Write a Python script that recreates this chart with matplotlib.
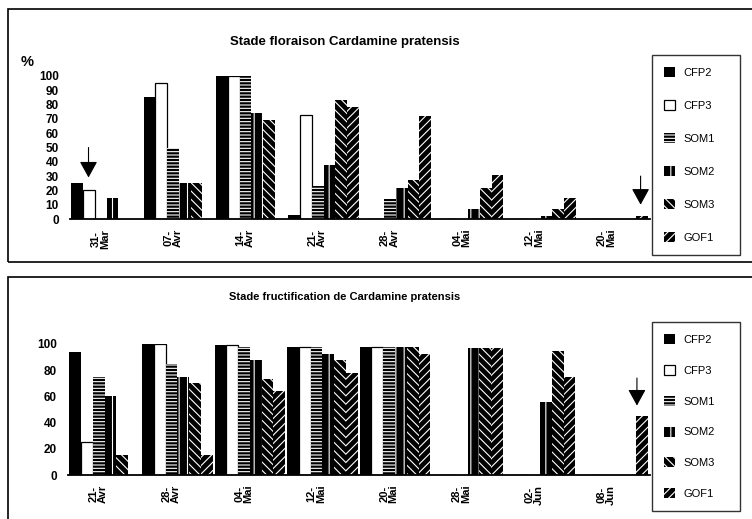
import matplotlib
matplotlib.use('Agg')
import matplotlib.pyplot as plt
from matplotlib.patches import Rectangle
import numpy as np

plt.rcParams['font.family'] = ['Liberation Sans', 'DejaVu Sans']
plt.rcParams['hatch.color'] = 'white'
plt.rcParams['hatch.linewidth'] = 0.8

series = ['CFP2', 'CFP3', 'SOM1', 'SOM2', 'SOM3', 'GOF1']

# Stade floraison (%)
dates_flo = ['31-\nMar', '07-\nAvr', '14-\nAvr', '21-\nAvr', '28-\nAvr', '04-\nMai', '12-\nMai', '20-\nMai']
flo_cfp2 = [25, 85, 100, 3, 0, 0, 0, 0]
flo_cfp3 = [20, 95, 100, 73, 0, 0, 0, 0]
flo_som1 = [0, 50, 100, 23, 14, 0, 0, 0]
flo_som2 = [15, 25, 74, 38, 22, 7, 2, 0]
flo_som3 = [0, 25, 69, 83, 27, 22, 7, 0]
flo_gof1 = [0, 0, 0, 78, 72, 31, 15, 2]

# Stade fructification (%)
dates_fru = ['21-\nAvr', '28-\nAvr', '04-\nMai', '12-\nMai', '20-\nMai', '28-\nMai', '02-\nJun', '08-\nJun']
fru_cfp2 = [94, 100, 99, 98, 98, 0, 0, 0]
fru_cfp3 = [25, 100, 99, 98, 98, 0, 0, 0]
fru_som1 = [75, 85, 98, 98, 98, 0, 0, 0]
fru_som2 = [60, 75, 88, 92, 98, 97, 56, 0]
fru_som3 = [15, 70, 73, 88, 98, 97, 95, 0]
fru_gof1 = [0, 15, 64, 78, 92, 97, 75, 45]

styles = {
    'CFP2': dict(color='black'),
    'CFP3': dict(color='white', edgecolor='black', linewidth=0.9),
    'SOM1': dict(color='black', hatch='-----'),
    'SOM2': dict(color='black', hatch='||'),
    'SOM3': dict(color='black', hatch='\\\\\\\\'),
    'GOF1': dict(color='black', hatch='////'),
}

fig = plt.figure(figsize=(7.52, 5.19), dpi=100)


def fx(px):
    return px / 752


def fy(px):
    return 1 - px / 519


def draw_panel(ax, values, labels, yticks):
    x = np.arange(len(labels))
    w = 0.162
    for k, (name, vals) in enumerate(zip(series, values)):
        ax.bar(x + k * w, vals, w, align='edge', label=name, **styles[name])
    ax.set_xlim(-0.02, 8.0)
    ax.set_ylim(0, 100)
    ax.set_yticks(yticks)
    ax.set_yticklabels([str(t) for t in yticks], fontsize=8.5, fontweight='bold')
    ax.set_xticks(x + 0.4)
    ax.set_xticklabels(labels, rotation=90, fontsize=8, fontweight='bold', linespacing=0.9)
    ax.tick_params(axis='both', length=0)
    ax.tick_params(axis='y', pad=8)
    ax.tick_params(axis='x', pad=7)
    for s in ['top', 'right', 'left']:
        ax.spines[s].set_visible(False)
    ax.spines['bottom'].set_linewidth(1.3)


# panneaux encadrés
fig.add_artist(Rectangle((fx(8), fy(262)), 1, fy(9) - fy(262), transform=fig.transFigure,
                         fill=False, edgecolor='black', linewidth=1.2))
fig.add_artist(Rectangle((fx(8), fy(540)), 1, fy(277) - fy(540), transform=fig.transFigure,
                         fill=False, edgecolor='black', linewidth=1.2))

# graphique du haut
ax1 = fig.add_axes([fx(70), fy(219), fx(650) - fx(70), fy(76) - fy(219)])
draw_panel(ax1, [flo_cfp2, flo_cfp3, flo_som1, flo_som2, flo_som3, flo_gof1],
           dates_flo, list(range(0, 101, 10)))
fig.text(fx(345), fy(42), 'Stade floraison Cardamine pratensis', ha='center', va='center',
         fontsize=9.5, fontweight='bold')
fig.text(fx(21), fy(62), '%', ha='left', va='center', fontsize=10.5, fontweight='bold')

arrow = dict(arrowstyle='-|>,head_length=1.0,head_width=0.55', color='black', lw=0.8,
             mutation_scale=10, shrinkA=0, shrinkB=0)
ax1.annotate('', xy=(0.236, 29), xytext=(0.236, 50), arrowprops=arrow)
ax1.annotate('', xy=(7.87, 10), xytext=(7.87, 30), arrowprops=arrow)

# graphique du bas
ax2 = fig.add_axes([fx(68), fy(475), fx(650) - fx(68), fy(344) - fy(475)])
draw_panel(ax2, [fru_cfp2, fru_cfp3, fru_som1, fru_som2, fru_som3, fru_gof1],
           dates_fru, list(range(0, 101, 20)))
fig.text(fx(345), fy(297), 'Stade fructification de Cardamine pratensis', ha='center', va='center',
         fontsize=8, fontweight='bold')
ax2.annotate('', xy=(7.82, 53), xytext=(7.82, 74), arrowprops=arrow)

# légendes
for ax, top, sp in [(ax1, 55, 2.0), (ax2, 322, 1.8)]:
    h, l = ax.get_legend_handles_labels()
    leg = fig.legend(h, l, loc='upper left', bbox_to_anchor=(fx(652), fy(top), fx(740) - fx(652), 0.0),
                     mode='expand', frameon=True, fancybox=False, edgecolor='black',
                     handlelength=1.0, handleheight=1.0, handletextpad=0.7,
                     labelspacing=sp, borderpad=1.1, borderaxespad=0, fontsize=8)
    leg.get_frame().set_linewidth(1.0)

fig.savefig('out.png', dpi=100)
